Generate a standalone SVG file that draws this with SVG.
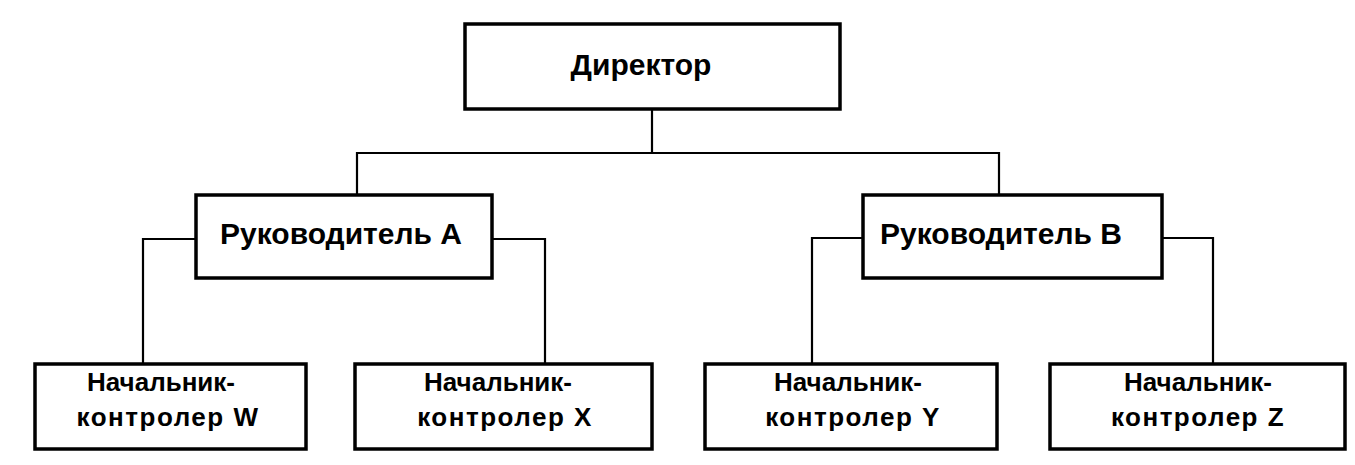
<svg xmlns="http://www.w3.org/2000/svg" width="1355" height="465" viewBox="0 0 1355 465">
<style>
.box{fill:#fff;stroke:#000;stroke-width:3.5}
.lbl{font-family:"Liberation Sans",Arial,sans-serif;font-weight:bold;font-size:30px;fill:#000;text-anchor:middle}
.sm{font-size:26px}
.wide{letter-spacing:1.5px}
.con{fill:none;stroke:#000;stroke-width:2.2}
</style>
<rect width="1355" height="465" fill="#fff"/>
<g id="connectors">
<path class="con" d="M652,109 V153"/>
<path class="con" d="M357,195 V153 H999 V195"/>
<path class="con" d="M196,239 H143 V364"/>
<path class="con" d="M492,239 H545 V364"/>
<path class="con" d="M863,238 H812 V364"/>
<path class="con" d="M1162,238 H1213 V364"/>
</g>
<g id="director">
<rect class="box" x="465" y="24" width="375" height="85"/>
<text class="lbl" x="641" y="75">Директор</text>
</g>
<g id="manager-a">
<rect class="box" x="196" y="195" width="296" height="83"/>
<text class="lbl" x="341" y="244">Руководитель А</text>
</g>
<g id="manager-b">
<rect class="box" x="863" y="195" width="299" height="83"/>
<text class="lbl" x="1001" y="244">Руководитель В</text>
</g>
<g id="chief-w">
<rect class="box" x="35" y="364" width="271" height="85"/>
<text class="lbl sm" x="161" y="391">Начальник-</text>
<text class="lbl sm wide" x="168" y="426">контролер W</text>
</g>
<g id="chief-x">
<rect class="box" x="355" y="364" width="297" height="85"/>
<text class="lbl sm" x="498" y="391">Начальник-</text>
<text class="lbl sm wide" x="505" y="426">контролер X</text>
</g>
<g id="chief-y">
<rect class="box" x="705" y="364" width="292" height="85"/>
<text class="lbl sm" x="848" y="391">Начальник-</text>
<text class="lbl sm wide" x="853" y="426">контролер Y</text>
</g>
<g id="chief-z">
<rect class="box" x="1050" y="364" width="295" height="85"/>
<text class="lbl sm" x="1198" y="391">Начальник-</text>
<text class="lbl sm wide" x="1198" y="426">контролер Z</text>
</g>
</svg>
